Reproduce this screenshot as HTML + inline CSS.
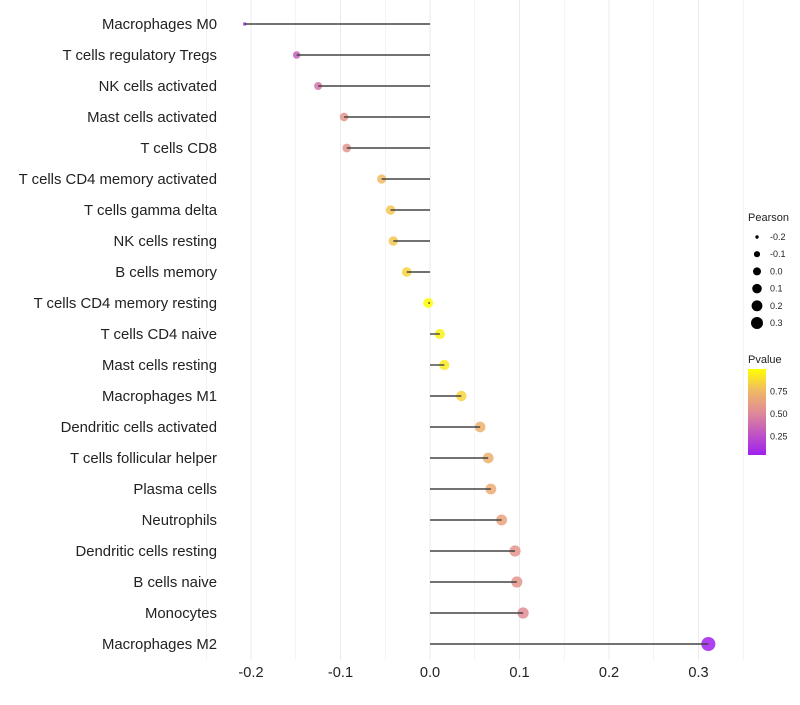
<!DOCTYPE html>
<html><head><meta charset="utf-8"><style>
body{margin:0;background:#fff;font-family:"Liberation Sans",sans-serif}
</style></head><body>
<svg id="chart" width="800" height="700" xmlns="http://www.w3.org/2000/svg"></svg>
<script>
const categories=["Macrophages M0","T cells regulatory  Tregs","NK cells activated","Mast cells activated","T cells CD8","T cells CD4 memory activated","T cells gamma delta","NK cells resting","B cells memory","T cells CD4 memory resting","T cells CD4 naive","Mast cells resting","Macrophages M1","Dendritic cells activated","T cells follicular helper","Plasma cells","Neutrophils","Dendritic cells resting","B cells naive","Monocytes","Macrophages M2"];
const pearson=[-0.207,-0.149,-0.125,-0.096,-0.093,-0.054,-0.044,-0.041,-0.026,-0.002,0.011,0.016,0.035,0.056,0.065,0.068,0.080,0.095,0.097,0.104,0.311];
const pvalue=[0.05,0.3,0.4,0.55,0.55,0.75,0.8,0.8,0.85,0.99,0.95,0.92,0.85,0.7,0.7,0.68,0.62,0.55,0.55,0.5,0.0];
const xTicks=[-0.2,-0.1,0.0,0.1,0.2,0.3];
const sizeLegend=[-0.2,-0.1,0.0,0.1,0.2,0.3];
const colorTicks=[0.25,0.5,0.75];
const NS="http://www.w3.org/2000/svg";
const svg=document.getElementById('chart');
const x=v=>430+v*895;
const y=i=>24+i*31;
const rs=[[-0.21,1.6],[-0.15,3.7],[-0.1,4.3],[0,5],[0.1,5.6],[0.32,7.1]];
function rc(v){for(let k=1;k<rs.length;k++){if(v<=rs[k][0]){const a=rs[k-1],b=rs[k];return a[1]+(b[1]-a[1])*(v-a[0])/(b[0]-a[0]);}}return 7.1;}
const rl=v=>Math.sqrt(2.9+(v+0.2)*66);
const stops=[[0,[160,32,240]],[0.5,[224,140,150]],[0.75,[240,185,100]],[1,[255,255,0]]];
function col(p){for(let k=1;k<stops.length;k++){if(p<=stops[k][0]){const a=stops[k-1],b=stops[k];const t=(p-a[0])/(b[0]-a[0]);const c=a[1].map((v,j)=>Math.round(v+(b[1][j]-v)*t));return `rgb(${c})`;}}return 'rgb(255,255,0)';}
function el(t,a){const e=document.createElementNS(NS,t);for(const k in a)e.setAttribute(k,a[k]);svg.appendChild(e);return e;}
for(let v=-0.25;v<=0.351;v+=0.05){
 const g=el('line',{x1:x(v),x2:x(v),y1:0,y2:660,stroke:'#ebebeb','stroke-width':Math.abs(Math.round(v*20))%2===0?1:0.6});
 
 
}
xTicks.forEach(v=>{
 const t=el('text',{x:x(v),y:677,'text-anchor':'middle','font-size':14.6,fill:'#222'});
 t.textContent=v.toFixed(1);
 
 
});
categories.forEach((c,i)=>{
 const t=el('text',{x:217,y:y(i)+5,'text-anchor':'end','font-size':14.9,fill:'#222'});
 t.textContent=c;
 
 
 const d=el('circle',{cx:x(pearson[i]),cy:y(i),r:rc(pearson[i]),fill:col(pvalue[i]),'fill-opacity':0.85});
 
 
 const l=el('line',{x1:x(0),x2:x(pearson[i]),y1:y(i),y2:y(i),stroke:'#444','stroke-width':1.4});
 
 
});
let t=el('text',{x:748,y:221,'font-size':11,fill:'#222'});t.textContent='Pearson';


sizeLegend.forEach((v,k)=>{
 const c=el('circle',{cx:757,cy:237+k*17.2,r:rl(v),fill:'#000'});
 
 
 const s=el('text',{x:770,y:240+k*17.2,'font-size':9,fill:'#222'});s.textContent=v.toFixed(1);
 
 
});
t=el('text',{x:748,y:363,'font-size':11,fill:'#222'});t.textContent='Pvalue';


const defs=el('defs',{});
const lg=document.createElementNS(NS,'linearGradient');lg.setAttribute('id','pg');lg.setAttribute('x1',0);lg.setAttribute('x2',0);lg.setAttribute('y1',1);lg.setAttribute('y2',0);defs.appendChild(lg);
stops.forEach(s=>{const st=document.createElementNS(NS,'stop');st.setAttribute('offset',s[0]);st.setAttribute('stop-color',`rgb(${s[1]})`);lg.appendChild(st);});
const cb=el('rect',{x:748,y:369,width:18,height:86,fill:'url(#pg)'});


const cy=p=>459-p*90;
colorTicks.forEach(p=>{
 const s=el('text',{x:770,y:cy(p)+3,'font-size':9,fill:'#222'});s.textContent=p.toFixed(2);
 
 
});
</script>
</body></html>
